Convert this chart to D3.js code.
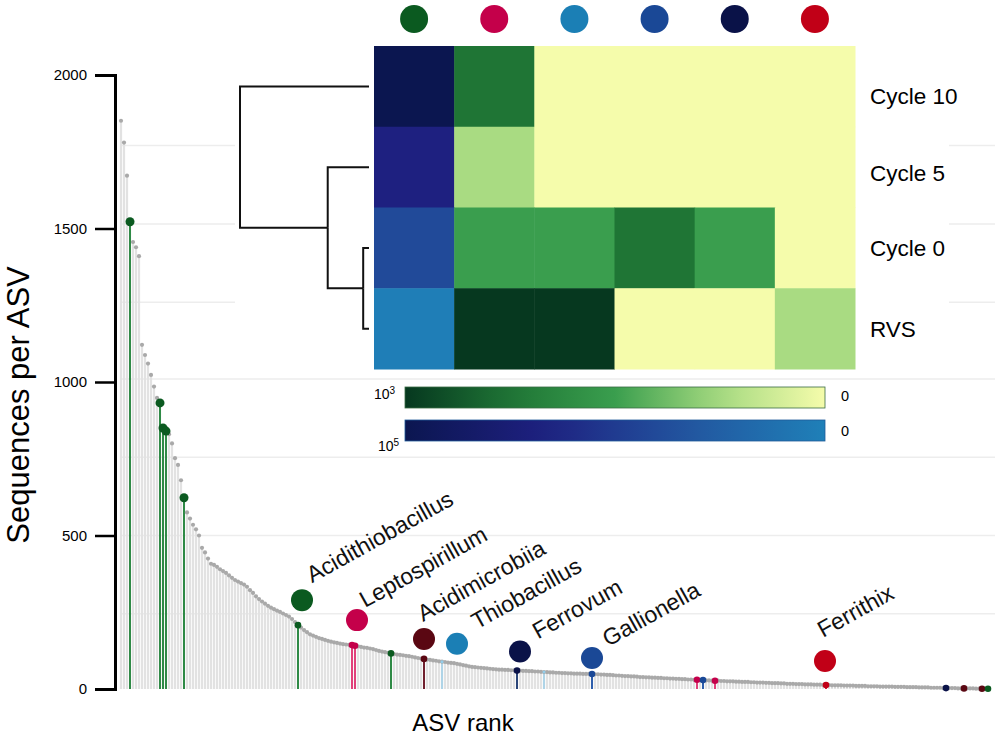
<!DOCTYPE html>
<html>
<head>
<meta charset="utf-8">
<script src="https://cdn.jsdelivr.net/npm/d3@7"></script>
<style>
  body { margin: 0; background: #fff; }
  svg { display: block; }
</style>
</head>
<body>
<svg width="1000" height="739"></svg>
<script>
// sequences per ASV, ordered by rank
const seqCounts = [
  1851, 1780, 1672, 1522, 1456, 1439, 1410, 1121, 1088, 1060,
  1023, 985, 948, 932, 850, 840, 830, 800, 752, 730,
  680, 623, 575, 555, 535, 520, 500, 460, 445, 425,
  408, 404, 398, 390, 384, 378, 370, 362, 355, 350,
  345, 340, 333, 322, 313, 302, 293, 285, 278, 271,
  265, 260, 255, 251, 246, 241, 236, 228, 218, 208,
  200, 192, 185, 178, 174, 170, 166, 163, 160, 157,
  154, 152, 150, 148, 146, 145, 144, 143, 141, 139,
  137, 135, 134, 132, 130, 127, 124, 122, 120, 118,
  116, 114, 112, 111, 110, 108, 107, 105, 103, 101,
  99, 98, 96, 95, 93, 92, 90, 89, 88, 86,
  85, 84, 82, 80, 78, 76, 74, 72, 71, 70,
  69, 68, 67, 66, 65, 64, 63, 63, 62, 62,
  61, 61, 60, 60, 59, 59, 58, 58, 57, 57,
  56, 55, 55, 54, 54, 53, 53, 52, 52, 51,
  51, 50, 50, 50, 49, 49, 49, 49, 48, 48,
  47, 47, 46, 46, 45, 44, 44, 43, 42, 42,
  41, 41, 40, 39, 39, 38, 38, 37, 37, 36,
  36, 35, 35, 34, 34, 33, 33, 32, 32, 31,
  31, 30, 30, 29, 29, 28, 28, 27, 27, 27,
  26, 26, 25, 25, 25, 24, 24, 23, 23, 23,
  22, 22, 21, 21, 21, 20, 20, 19, 19, 19,
  18, 18, 17, 17, 17, 16, 16, 16, 15, 15,
  15, 14, 14, 14, 13, 13, 13, 12, 12, 12,
  12, 11, 11, 11, 11, 10, 10, 10, 10, 9,
  9, 9, 9, 8, 8, 8, 8, 8, 7, 7,
  7, 7, 6, 6, 6, 6, 5, 5, 5, 5,
  4, 4, 4, 4, 3, 3, 3, 3, 3, 2,
  2, 2, 2, 2, 2, 1, 1, 1, 1, 1,
];

// ASVs assigned to the named genera (index into seqCounts)
const highlights = [
  { rank: 3, taxon: "Acidithiobacillus" },
  { rank: 13, taxon: "Acidithiobacillus" },
  { rank: 14, taxon: "Acidithiobacillus" },
  { rank: 15, taxon: "Acidithiobacillus" },
  { rank: 21, taxon: "Acidithiobacillus" },
  { rank: 59, taxon: "Acidithiobacillus" },
  { rank: 77, taxon: "Leptospirillum" },
  { rank: 78, taxon: "Leptospirillum" },
  { rank: 90, taxon: "Acidithiobacillus" },
  { rank: 101, taxon: "Acidimicrobiia" },
  { rank: 107, taxon: "Thiobacillus" },
  { rank: 132, taxon: "Ferrovum" },
  { rank: 141, taxon: "Thiobacillus" },
  { rank: 157, taxon: "Gallionella" },
  { rank: 192, taxon: "Leptospirillum" },
  { rank: 194, taxon: "Gallionella" },
  { rank: 198, taxon: "Leptospirillum" },
  { rank: 235, taxon: "Ferrithix" },
  { rank: 275, taxon: "Ferrovum" },
  { rank: 281, taxon: "Acidimicrobiia" },
  { rank: 287, taxon: "Acidimicrobiia" },
  { rank: 289, taxon: "Acidithiobacillus" },
];

// labelled genera and the ASV each label sits on
const annotations = [
  { taxon: "Acidithiobacillus", rank: 59 },
  { taxon: "Leptospirillum", rank: 77 },
  { taxon: "Acidimicrobiia", rank: 101 },
  { taxon: "Thiobacillus", rank: 107 },
  { taxon: "Ferrovum", rank: 132 },
  { taxon: "Gallionella", rank: 157 },
  { taxon: "Ferrithix", rank: 235 },
];

const yTicks = [0, 500, 1000, 1500, 2000];
const gridValues = [245, 500, 755, 1010, 1260, 1515, 1770];

// heatmap
const samples = ["Cycle 10", "Cycle 5", "Cycle 0", "RVS"];
const heatTaxa = ["Acidithiobacillus", "Leptospirillum", "Thiobacillus", "Gallionella", "Ferrovum", "Ferrithix"];
const acidiReads = [100000, 67000, 40000, 1500]; // first column, 0..10^5 scale
const otherReads = [ // remaining columns, 0..10^3 scale
  [750, 0, 0, 0, 0],
  [240, 0, 0, 0, 0],
  [500, 500, 750, 500, 0],
  [1000, 1000, 0, 0, 240],
];
const dendro = {
  height: 1.0,
  children: [
    { name: "Cycle 10" },
    { height: 0.32, children: [
      { name: "Cycle 5" },
      { height: 0.045, children: [{ name: "Cycle 0" }, { name: "RVS" }] },
    ] },
  ],
};

const FONT = '"Liberation Sans", Arial, Helvetica, sans-serif';
const taxonColor = {
  Acidithiobacillus: "#0b5a20",
  Leptospirillum: "#c4004a",
  Acidimicrobiia: "#5a0712",
  Thiobacillus: "#1b7fb5",
  Ferrovum: "#0a1248",
  Gallionella: "#1a4896",
  Ferrithix: "#c10017",
};
const stemColor = {
  Acidithiobacillus: "#2f8a46",
  Leptospirillum: "#e0407a",
  Acidimicrobiia: "#70202e",
  Thiobacillus: "#93cdea",
  Ferrovum: "#2a4578",
  Gallionella: "#2e5eac",
  Ferrithix: "#d0203a",
};

const svg = d3.select("svg").attr("font-family", FONT);
const defs = svg.append("defs");

const y = d3.scaleLinear().domain([0, 2000]).range([689, 75]);
const x = d3.scaleLinear().domain([0, seqCounts.length - 1]).range([121, 988]);

// grid
svg.append("g")
  .selectAll("line")
  .data(gridValues)
  .join("line")
  .attr("x1", 122)
  .attr("x2", 995)
  .attr("y1", (d) => y(d))
  .attr("y2", (d) => y(d))
  .attr("stroke", "#ededed")
  .attr("stroke-width", 1.5);

// gray bars
svg.append("g")
  .selectAll("line")
  .data(seqCounts)
  .join("line")
  .attr("x1", (d, i) => x(i))
  .attr("x2", (d, i) => x(i))
  .attr("y1", y(0))
  .attr("y2", (d) => y(d))
  .attr("stroke", "#e2e2e2")
  .attr("stroke-width", 2.2);

// coloured stems
svg.append("g")
  .selectAll("line")
  .data(highlights)
  .join("line")
  .attr("x1", (d) => x(d.rank))
  .attr("x2", (d) => x(d.rank))
  .attr("y1", y(0))
  .attr("y2", (d) => y(seqCounts[d.rank]))
  .attr("stroke", (d) => stemColor[d.taxon])
  .attr("stroke-width", (d) => (d.taxon === "Thiobacillus" ? 1.3 : 2));

// gray dots
svg.append("g")
  .selectAll("circle")
  .data(seqCounts)
  .join("circle")
  .attr("cx", (d, i) => x(i))
  .attr("cy", (d) => y(d))
  .attr("r", 2.1)
  .attr("fill", "#a9a9a9");

// coloured heads
svg.append("g")
  .selectAll("circle")
  .data(highlights)
  .join("circle")
  .attr("cx", (d) => x(d.rank))
  .attr("cy", (d) => y(seqCounts[d.rank]))
  .attr("r", (d) => (d.taxon === "Thiobacillus" ? 1.5 : seqCounts[d.rank] > 500 ? 4.5 : 3.3))
  .attr("fill", (d) => (d.taxon === "Thiobacillus" ? stemColor[d.taxon] : taxonColor[d.taxon]));

// y axis
const yAxis = d3.axisLeft(y)
  .tickValues(yTicks)
  .tickFormat(d3.format("d"))
  .tickSize(20)
  .tickSizeOuter(20)
  .tickPadding(8);
const ax = svg.append("g").attr("transform", "translate(115,0)").call(yAxis);
ax.attr("font-family", FONT).attr("font-size", 15);
ax.select(".domain").attr("stroke-width", 3);
ax.selectAll(".tick line").attr("stroke-width", 2.5);
ax.selectAll(".tick text").attr("fill", "#000");

svg.append("text")
  .attr("transform", "translate(29,405) rotate(-90)")
  .attr("text-anchor", "middle")
  .attr("font-size", 31)
  .text("Sequences per ASV");

svg.append("text")
  .attr("x", 463)
  .attr("y", 731)
  .attr("text-anchor", "middle")
  .attr("font-size", 24)
  .text("ASV rank");

// genus labels along the curve (offsets relative to the ASV head)
const nudge = {
  Acidithiobacillus: [4, -25, 10, -17],
  Leptospirillum: [5, -25, 8, -12],
  Acidimicrobiia: [0, -20, -1, -17],
  Thiobacillus: [15, -18, 20, -14],
  Ferrovum: [3, -19, 18, -12],
  Gallionella: [0, -16, 16, -11],
  Ferrithix: [-1, -24, -2, -23],
};
const ann = svg.append("g")
  .selectAll("g")
  .data(annotations)
  .join("g")
  .attr("transform", (d) => {
    const [dx, dy] = nudge[d.taxon];
    return `translate(${x(d.rank) + dx}, ${y(seqCounts[d.rank]) + dy})`;
  });
ann.append("circle").attr("r", 11).attr("fill", (d) => taxonColor[d.taxon]);
ann.append("text")
  .attr("transform", (d) => {
    const [, , tx, ty] = nudge[d.taxon];
    return `translate(${tx}, ${ty}) rotate(-29)`;
  })
  .attr("font-size", 23)
  .attr("fill", "#111")
  .text((d) => d.taxon);

// ---- heatmap panel ----
svg.append("rect")
  .attr("x", 235)
  .attr("y", 0)
  .attr("width", 714)
  .attr("height", 375)
  .attr("fill", "#fff");

const col = d3.scaleBand().domain(heatTaxa).range([374, 855]);
const row = d3.scaleBand().domain(samples).range([46, 369]);

const greenScale = d3.scaleLinear()
  .domain([0, 250, 500, 750, 1000])
  .range(["#f5fcab", "#a6da80", "#3a9e4e", "#1f7535", "#06381f"]);
const blueScale = d3.scaleLinear()
  .domain([0, 33000, 67000, 100000])
  .range(["#1f80b8", "#22559f", "#1e2080", "#0b1650"]);

const cells = samples.flatMap((s, i) =>
  heatTaxa.map((t, j) => ({
    sample: s,
    taxon: t,
    fill: j === 0 ? blueScale(acidiReads[i]) : greenScale(otherReads[i][j - 1]),
  }))
);
svg.append("g")
  .selectAll("rect")
  .data(cells)
  .join("rect")
  .attr("x", (d) => col(d.taxon))
  .attr("y", (d) => row(d.sample))
  .attr("width", col.bandwidth() + 0.5)
  .attr("height", row.bandwidth() + 0.5)
  .attr("fill", (d) => d.fill);

// column key dots
svg.append("g")
  .selectAll("circle")
  .data(heatTaxa)
  .join("circle")
  .attr("cx", (d) => col(d) + col.bandwidth() / 2)
  .attr("cy", 19)
  .attr("r", 14)
  .attr("fill", (d) => taxonColor[d]);

// row labels
const rowNudge = [10, 6, 0, 0];
svg.append("g")
  .selectAll("text")
  .data(samples)
  .join("text")
  .attr("x", 870)
  .attr("y", (d, i) => row(d) + row.bandwidth() / 2 + 8 + rowNudge[i])
  .attr("font-size", 22.5)
  .text((d) => d);

// dendrogram
const root = d3.hierarchy(dendro);
const dx = d3.scaleLinear().domain([0, 1]).range([369, 240]);
root.eachAfter((n) => {
  if (n.children) {
    n.y = d3.mean(n.children, (c) => c.y);
    n.x = dx(n.data.height);
  } else {
    n.y = row(n.data.name) + row.bandwidth() / 2;
    n.x = dx(0);
  }
});
svg.append("g")
  .selectAll("path")
  .data(root.links())
  .join("path")
  .attr("d", ({ source, target }) => `M${source.x},${source.y}V${target.y}H${target.x}`)
  .attr("fill", "none")
  .attr("stroke", "#111")
  .attr("stroke-width", 2);

// colour bars
function colorBar(id, scale, yTop, stroke) {
  const [lo, hi] = d3.extent(scale.domain());
  const grad = defs.append("linearGradient").attr("id", id);
  d3.range(0, 11).forEach((k) => {
    grad.append("stop")
      .attr("offset", `${k * 10}%`)
      .attr("stop-color", scale(hi - (hi - lo) * k / 10));
  });
  svg.append("rect")
    .attr("x", 405)
    .attr("y", yTop)
    .attr("width", 420)
    .attr("height", 21)
    .attr("fill", `url(#${id})`)
    .attr("stroke", stroke)
    .attr("stroke-width", 0.8);
}
colorBar("gradGreen", greenScale, 387, "#3b6b45");
colorBar("gradBlue", blueScale, 420, "#1f5b9a");

const t3 = svg.append("text").attr("x", 374).attr("y", 399).attr("font-size", 14).text("10");
t3.append("tspan").attr("dy", -5).attr("font-size", 10).text("3");
const t5 = svg.append("text").attr("x", 378).attr("y", 451).attr("font-size", 14).text("10");
t5.append("tspan").attr("dy", -5).attr("font-size", 10).text("5");
svg.append("text").attr("x", 841).attr("y", 401).attr("font-size", 14.5).text("0");
svg.append("text").attr("x", 841).attr("y", 436).attr("font-size", 14.5).text("0");
</script>
</body>
</html>
